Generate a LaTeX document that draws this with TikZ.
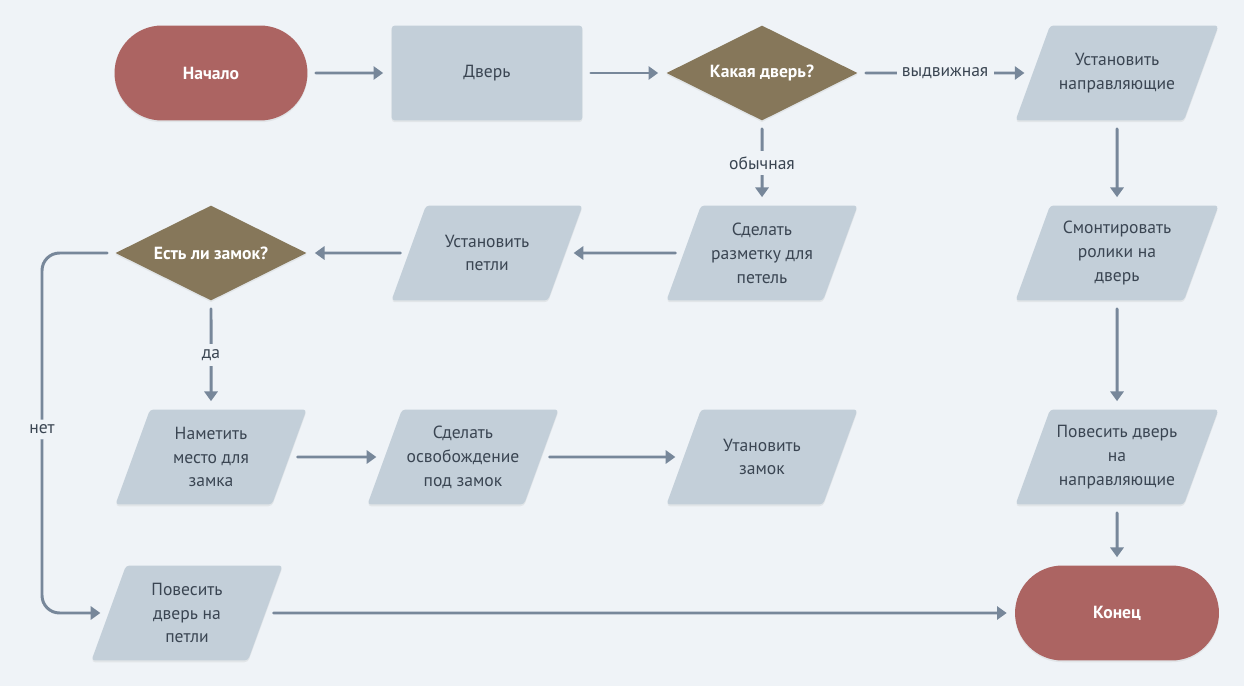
\documentclass[tikz,border=0pt]{standalone}
\usepackage{fontspec}
\setmainfont{PT Sans}
\usepackage{tikz}
\usepackage{xcolor}
\usetikzlibrary{positioning,arrows.meta,shapes,shadows}

\definecolor{bgcol}{HTML}{EFF3F7}
\definecolor{termcol}{HTML}{AC6462}
\definecolor{boxcol}{HTML}{C3CFD9}
\definecolor{askcol}{HTML}{86775A}
\definecolor{linecol}{HTML}{77879A}
\definecolor{txtcol}{HTML}{3A4552}

\begin{document}
\begin{tikzpicture}[x=0.02cm, y=-0.02cm,
    font=\fontsize{10}{13.6}\selectfont,
    base/.style={text=txtcol, inner sep=2pt,
      drop shadow={shadow xshift=0pt, shadow yshift=-1pt, opacity=0.12}},
    term/.style={base, align=center, rounded rectangle, fill=termcol, text=white,
      font=\fontsize{10}{13.6}\selectfont\bfseries, minimum height=1.9cm},
    proc/.style={base, align=center, rectangle, rounded corners=2pt, fill=boxcol,
      minimum width=3.82cm, minimum height=1.9cm},
    io/.style={base, trapezium, trapezium left angle=70, trapezium right angle=110,
      trapezium stretches body, rounded corners=2pt, fill=boxcol, inner sep=0pt,
      minimum width=3.82cm, minimum height=1.9cm,
      execute at begin node={\begin{minipage}[c][1.9cm][c]{2.44cm}\centering},
      execute at end node={\end{minipage}}},
    ask/.style={base, align=center, diamond, aspect=2, inner sep=0pt, fill=askcol, text=white,
      font=\fontsize{10}{13.6}\selectfont\bfseries,
      minimum width=3.82cm, minimum height=1.9cm},
    flow/.style={draw=linecol, line width=1.7pt, line cap=round,
      -{Triangle[length=5.5pt,width=7.5pt]}, shorten <=0.16cm, shorten >=0.16cm},
    lbl/.style={fill=bgcol, text=txtcol, inner sep=3pt}]

        \useasboundingbox[fill=bgcol] (0,0) rectangle (1244,686);

        % Draw the nodes
        \node[term, minimum width=4.0cm] (start) at (211,73) {Начало};
        \node[proc] (door) at (487,73) {Дверь};
        \node[ask] (kind) at (762,73) {Какая дверь?};
        \node[io, minimum width=4.06cm] (rails) at (1117,73) {Установить\\направляющие};

        \node[ask] (lockq) at (211,253) {Есть ли замок?};
        \node[io] (hinges) at (487,253) {Установить\\петли};
        \node[io] (marks) at (762,253) {Сделать\\разметку для\\петель};
        \node[io, minimum width=4.06cm] (rollers) at (1117,253) {Смонтировать\\ролики на\\дверь};

        \node[io] (lockplace) at (211,457) {Наметить\\место для\\замка};
        \node[io] (cutout) at (463,457) {Сделать\\освобождение\\под замок};
        \node[io] (setlock) at (762,457) {Утановить\\замок};
        \node[io, minimum width=4.06cm] (hangrails) at (1117,457) {Повесить дверь\\на\\направляющие};

        \node[io] (hanghinges) at (187,613) {Повесить\\дверь на\\петли};
        \node[term, minimum width=4.22cm] (end) at (1117,613) {Конец};

        \coordinate (noturn) at (42,613);

        % Draw edges
        \draw[flow] (start) -- (door);
        \draw[flow] (door) -- (kind);
        \draw[flow] (kind) -- node[lbl] {выдвижная} (rails);
        \draw[flow] (kind) -- node[lbl] {обычная} (marks);
        \draw[flow] (marks) -- (hinges);
        \draw[flow] (hinges) -- (lockq);
        \draw[flow] (lockq) -- node[lbl] {да} (lockplace);
        \draw[flow, rounded corners=10pt] (lockq) -| node[lbl, pos=0.745] {нет} (noturn) -- (hanghinges);
        \draw[flow] (lockplace) -- (cutout);
        \draw[flow] (cutout) -- (setlock);
        \draw[flow] (rails) -- (rollers);
        \draw[flow] (rollers) -- (hangrails);
        \draw[flow] (hangrails) -- (end);
        \draw[flow] (hanghinges) -- (end);
      \end{tikzpicture}
\end{document}
